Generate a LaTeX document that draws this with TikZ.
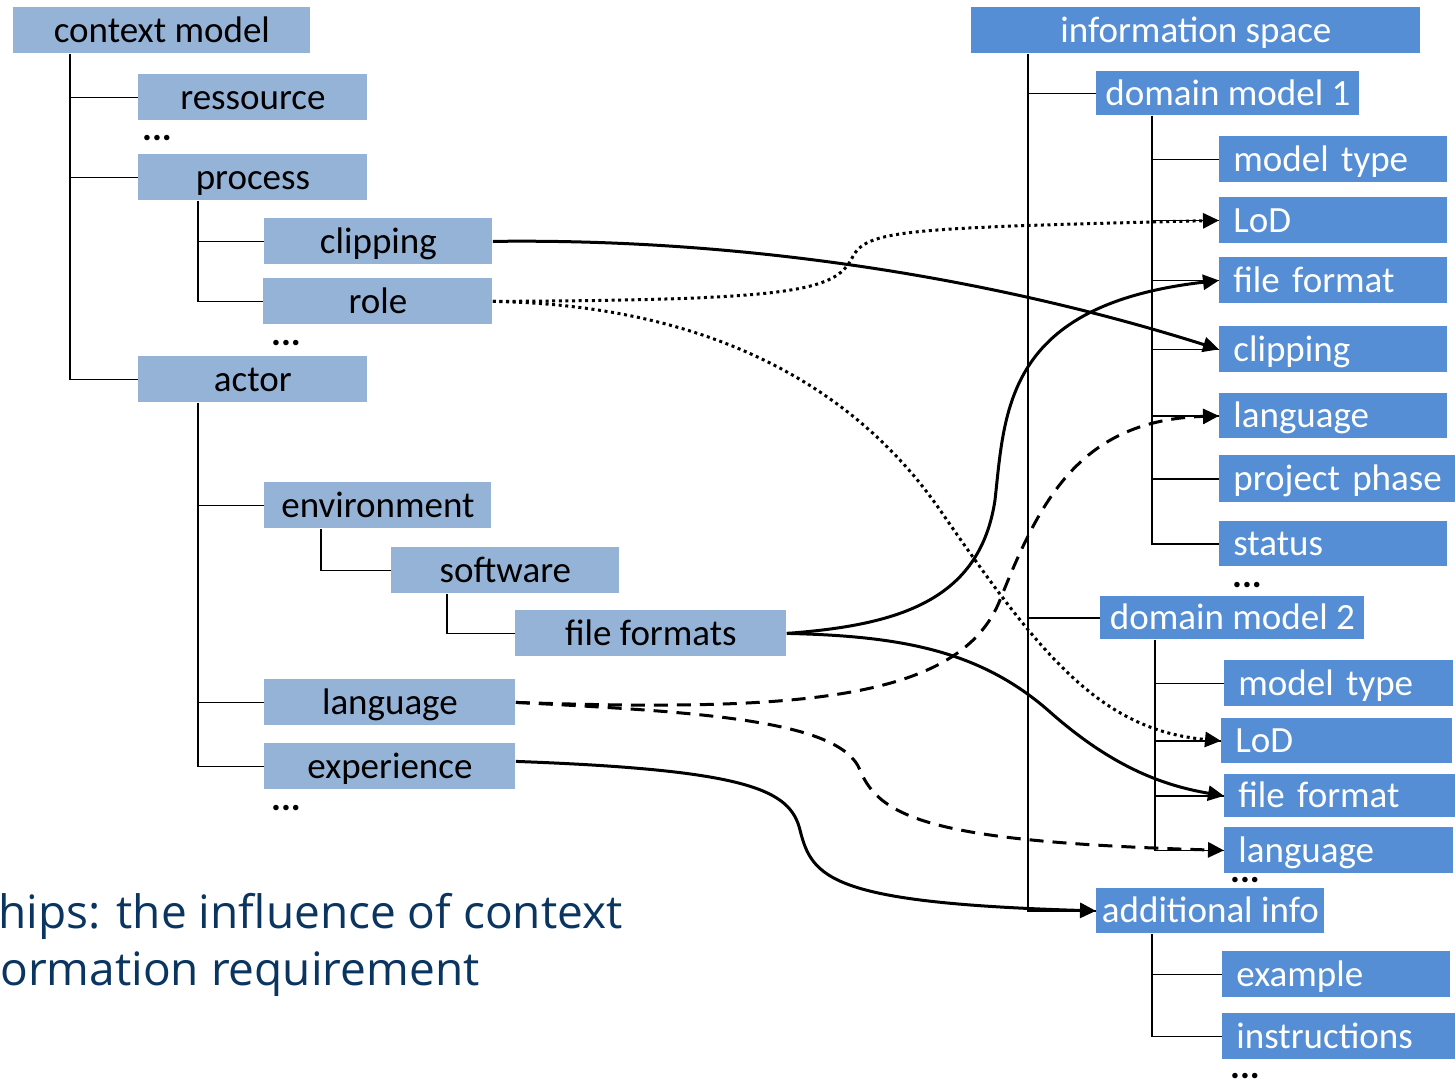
\documentclass[tikz,border=0pt]{standalone}
\usepackage{fontspec}
\setmainfont{Carlito}
\newfontfamily\captionfont{Open Sans}
\usetikzlibrary{arrows.meta}
\definecolor{ctxblue}{HTML}{95B3D7}
\definecolor{infoblue}{HTML}{558ED5}
\definecolor{navy}{HTML}{0B3561}

\begin{document}
\begin{tikzpicture}[x=0.5pt,y=-0.5pt,
  boxbase/.style 2 args={rectangle, inner sep=0pt, anchor=north west,
    minimum width=0.5pt*#1, minimum height=0.5pt*#2,
    text height=12pt, text depth=0pt,
    font=\fontsize{18.5pt}{22pt}\selectfont},
  ctx/.style 2 args={boxbase={#1}{#2}, fill=ctxblue, text=black},
  info/.style 2 args={boxbase={#1}{#2}, fill=infoblue, text=white},
  leaf/.style 2 args={boxbase={#1}{#2}, fill=infoblue, text=white,
    text width=0.5pt*#1, align=left,
    execute at begin node={\hspace*{7pt}}},
  more/.style={inner sep=0pt, anchor=base, text height=3pt, text depth=0pt,
    font=\fontsize{18.5pt}{22pt}\selectfont\bfseries},
  tree/.style={line width=0.75pt},
  link/.style={line width=1.5pt, -{Triangle[length=8pt,width=7.5pt]}},
  dotlink/.style={link, dash pattern=on 1.5pt off 1.8pt},
  dashlink/.style={link, dash pattern=on 7pt off 4.5pt},
  capt/.style={inner sep=0pt, anchor=base east, text=navy,
    font=\captionfont\fontsize{23pt}{28pt}\selectfont}
]
\useasboundingbox (0,0) rectangle (1455,1080);

% ---------- context model ----------
\node[ctx={297}{46}] (cm) at (13,7) {context model};
\node[ctx={229}{46}] (res) at (138,74) {ressource};
\node[more] (dA) at (157,141) {...};
\node[ctx={229}{46}] (proc) at (138,154) {process};
\node[ctx={228}{46}] (clipL) at (264,218) {clipping};
\node[ctx={229}{46}] (role) at (263,278) {role};
\node[more] (dB) at (286,346) {...};
\node[ctx={229}{46}] (actor) at (138,356) {actor};
\node[ctx={227}{46}] (env) at (264,482) {environment};
\node[ctx={228}{46}] (soft) at (391,547) {software};
\node[ctx={271}{46}] (ff) at (515,610) {file formats};
\node[ctx={251}{46}] (langL) at (264,679) {language};
\node[ctx={251}{46}] (exp) at (264,743) {experience};
\node[more] (dC) at (286,810) {...};

% ---------- information space ----------
\node[info={449}{46}] (is) at (971,7) {information space};
\node[info={263}{44}] (dm1) at (1096,71) {domain model 1};
\node[leaf={228}{46}] (mt1) at (1219,136) {model type};
\node[leaf={228}{46}] (lod1) at (1219,197) {LoD};
\node[leaf={228}{46}] (ff1) at (1219,257) {file format};
\node[leaf={228}{46}] (clipR) at (1219,326) {clipping};
\node[leaf={228}{45}] (lang1) at (1219,393) {language};
\node[leaf={236}{47}] (pp) at (1219,455) {project phase};
\node[leaf={228}{45}] (status) at (1219,521) {status};
\node[more] (dD) at (1247,587) {...};
\node[info={264}{43}] (dm2) at (1100,596) {domain model 2};
\node[leaf={229}{46}] (mt2) at (1224,660) {model type};
\node[leaf={231}{45}] (lod2) at (1221,718) {LoD};
\node[leaf={231}{43}] (ff2) at (1224,774) {file format};
\node[leaf={229}{46}] (lang2) at (1224,827) {language};
\node[more] (dE) at (1245,882) {...};
\node[info={228}{45}] (ai) at (1096,888) {additional info};
\node[leaf={228}{46}] (ex) at (1222,951) {example};
\node[leaf={233}{46}] (ins) at (1222,1013) {instructions};
\node[more] (dF) at (1245,1078) {...};

% ---------- tree lines ----------
\coordinate (xa) at (70,0);
\coordinate (xb) at (198,0);
\coordinate (xc) at (321,0);
\coordinate (xd) at (447,0);
\coordinate (xe) at (1028,0);
\coordinate (xf) at (1152,0);
\coordinate (xg) at (1155,0);

\draw[tree] (xa |- cm.south) |- (res.west);
\draw[tree] (xa |- cm.south) |- (proc.west);
\draw[tree] (xa |- cm.south) |- (actor.west);
\draw[tree] (xb |- proc.south) |- (clipL.west);
\draw[tree] (xb |- proc.south) |- (role.west);
\draw[tree] (xb |- actor.south) |- (env.west);
\draw[tree] (xb |- actor.south) |- (langL.west);
\draw[tree] (xb |- actor.south) |- (exp.west);
\draw[tree] (xc |- env.south) |- (soft.west);
\draw[tree] (xd |- soft.south) |- (ff.west);

\draw[tree] (xe |- is.south) |- (dm1.west);
\draw[tree] (xe |- is.south) |- (dm2.west);
\draw[tree] (xe |- is.south) |- (ai.west);
\foreach \n in {mt1,lod1,ff1,clipR,lang1,pp,status}
  \draw[tree] (xf |- dm1.south) |- (\n.west);
\foreach \n in {mt2,lod2,ff2,lang2}
  \draw[tree] (xg |- dm2.south) |- (\n.west);
\foreach \n in {ex,ins}
  \draw[tree] (xf |- ai.south) |- (\n.west);

% ---------- influence links ----------
\draw[link] (clipL.east) .. controls (750,238) and (1000,280) .. (clipR.west);
\draw[dotlink] (role.east) .. controls (790,300) and (835,292) .. (852,258)
  .. controls (866,230) and (900,228) .. (lod1.west);
\draw[dotlink] (role.east) .. controls (700,305) and (850,380) .. (940,510)
  .. controls (1040,655) and (1100,730) .. (lod2.west);
\draw[link] (ff.east) .. controls (900,625) and (980,600) .. (995,500)
  .. controls (1005,410) and (1005,305) .. (ff1.west);
\draw[link] (ff.east) .. controls (900,636) and (980,650) .. (1050,712)
  .. controls (1110,765) and (1160,785) .. (ff2.west);
\draw[dashlink] (langL.east) .. controls (800,712) and (960,700) .. (1000,600)
  .. controls (1040,500) and (1080,420) .. (lang1.west);
\draw[dashlink] (langL.east) .. controls (700,712) and (840,720) .. (860,770)
  .. controls (880,820) and (940,842) .. (lang2.west);
\draw[link] ([yshift=2.5pt]exp.east) .. controls (750,770) and (790,790) .. (800,830)
  .. controls (812,878) and (830,903) .. (ai.west);

% ---------- caption ----------
\node[capt] (cap1) at (623,928) {hips: the influence of context};
\node[capt] (cap2) at (480,985) {ormation requirement};
\end{tikzpicture}
\end{document}
